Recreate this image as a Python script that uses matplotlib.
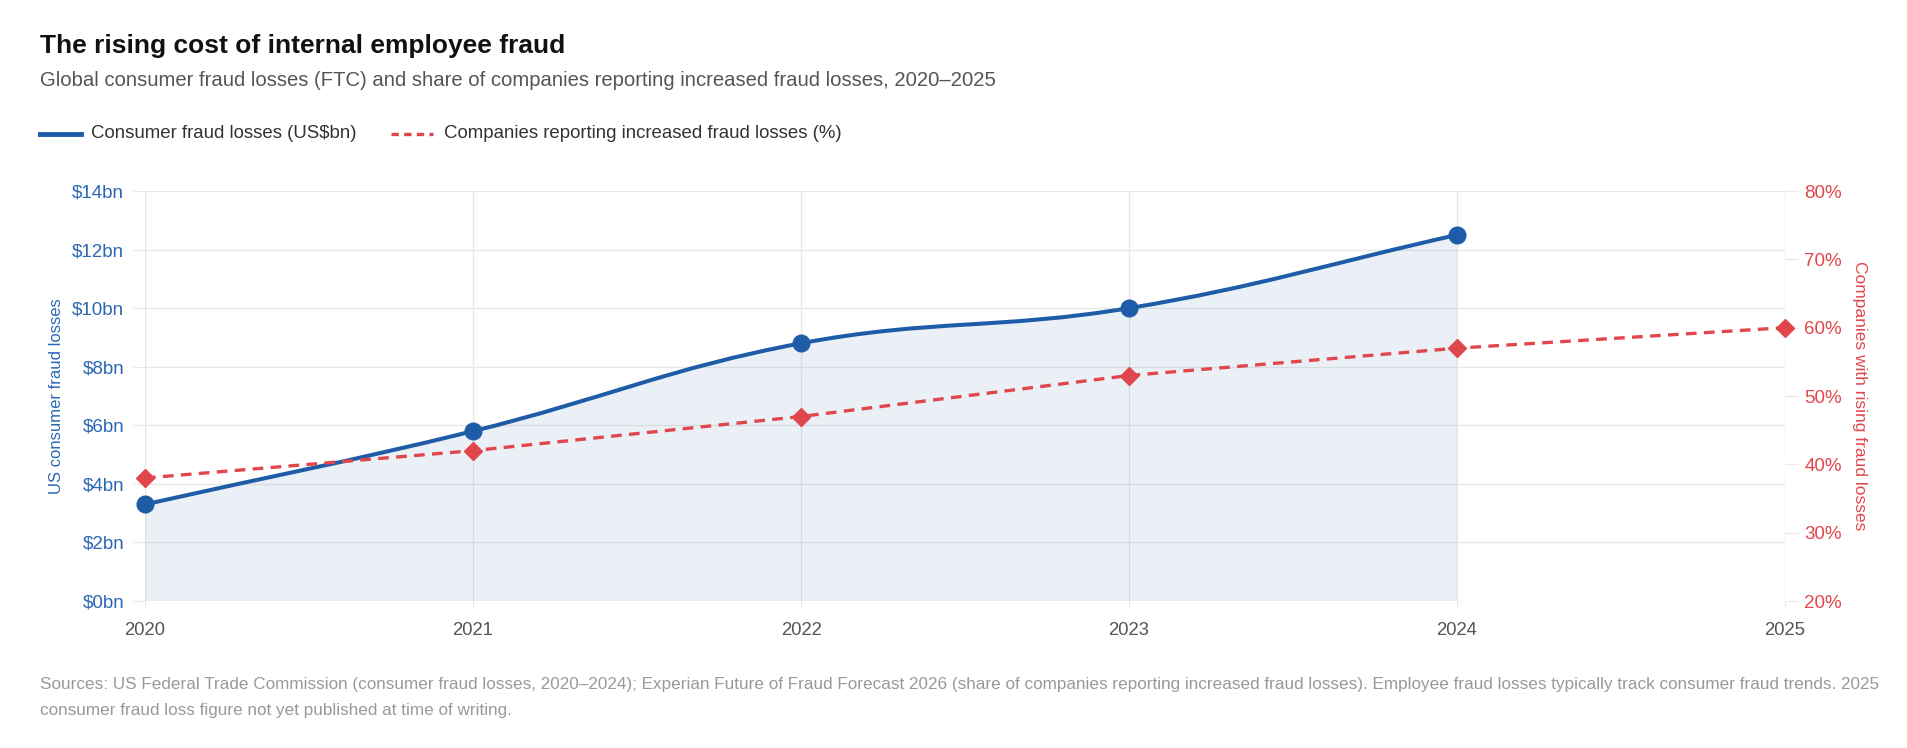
import numpy as np
import matplotlib
matplotlib.use("Agg")
import matplotlib.pyplot as plt
from matplotlib.path import Path
from matplotlib.patches import PathPatch
from matplotlib.lines import Line2D

plt.rcParams['font.family'] = ['Liberation Sans', 'DejaVu Sans']

# data
years = [2020, 2021, 2022, 2023, 2024, 2025]
loss_years = [2020, 2021, 2022, 2023, 2024]
losses_bn = [3.3, 5.8, 8.8, 10.0, 12.5]
share_pct = [38, 42, 47, 53, 57, 60]
left_ticks = [0, 2, 4, 6, 8, 10, 12, 14]
right_ticks = [20, 30, 40, 50, 60, 70, 80]

BLUE = '#1f5ca8'
BLUE_TXT = '#2b68b3'
RED = '#e0474c'
GRID = '#e8e8e8'

W, H = 1907, 748
fig = plt.figure(figsize=(W / 100, H / 100), dpi=100)
ax = fig.add_axes([145 / W, 1 - 601 / H, 1640 / W, 410 / H])
ax2 = ax.twinx()

ax.set_xlim(2020, 2025)
ax.set_ylim(0, 14)
ax2.set_ylim(20, 80)

for a in (ax, ax2):
    for s in a.spines.values():
        s.set_visible(False)

ax.set_xticks(years)
ax.set_xticklabels([str(y) for y in years])
ax.set_yticks(left_ticks)
ax.set_yticklabels(['$%dbn' % v for v in left_ticks])
ax2.set_yticks(right_ticks)
ax2.set_yticklabels(['%d%%' % v for v in right_ticks])

ax.grid(True, color=GRID, linewidth=1)
ax.set_axisbelow(True)
ax.tick_params(axis='x', colors=GRID, labelcolor='#555555', labelsize=13.3, length=5, pad=10)
ax.tick_params(axis='y', colors=GRID, labelcolor=BLUE_TXT, labelsize=13.5, length=9, pad=6)
ax2.tick_params(axis='y', colors=GRID, labelcolor=RED, labelsize=13.5, length=9, pad=5)

ax.set_ylabel('US consumer fraud losses', color=BLUE_TXT, fontsize=12, labelpad=6)
ax2.set_ylabel('Companies with rising fraud losses', color=RED, fontsize=12.5,
               rotation=270, labelpad=18)

# smooth curve (bezier, tension like chart.js) built in pixel space
tension = 0.4
pts = ax.transData.transform(np.column_stack([loss_years, losses_bn]))
n = len(pts)
verts = [pts[0]]
codes = [Path.MOVETO]
cps = []
for i in range(n):
    prev = pts[max(i - 1, 0)]
    nxt = pts[min(i + 1, n - 1)]
    cur = pts[i]
    d01 = np.hypot(*(cur - prev))
    d12 = np.hypot(*(nxt - cur))
    tot = d01 + d12 if d01 + d12 > 0 else 1
    fa = tension * d01 / tot
    fb = tension * d12 / tot
    cps.append((cur - fa * (nxt - prev), cur + fb * (nxt - prev)))
for i in range(n - 1):
    verts += [cps[i][1], cps[i + 1][0], pts[i + 1]]
    codes += [Path.CURVE4] * 3
inv = ax.transData.inverted()
verts_d = inv.transform(np.array(verts))

line_path = Path(verts_d, codes)
ax.add_patch(PathPatch(line_path, facecolor='none', edgecolor=BLUE, linewidth=2.9,
                       capstyle='round', joinstyle='round', zorder=3))
fill_verts = np.vstack([verts_d, [[loss_years[-1], 0], [loss_years[0], 0], verts_d[0]]])
fill_codes = codes + [Path.LINETO, Path.LINETO, Path.CLOSEPOLY]
ax.add_patch(PathPatch(Path(fill_verts, fill_codes), facecolor=BLUE, alpha=0.085,
                       edgecolor='none', zorder=1))
ax.plot(loss_years, losses_bn, linestyle='none', marker='o', markersize=12,
        color=BLUE, zorder=4, clip_on=False)

ax2.plot(years, share_pct, color=RED, linewidth=2.4, dashes=(3.2, 2.2),
         marker='D', markersize=9.5, zorder=5, clip_on=False)

# titles
fig.text(40 / W, 1 - 46 / H, 'The rising cost of internal employee fraud', fontsize=19,
         fontweight='bold', color='#111111', va='center')
fig.text(40 / W, 1 - 80 / H,
         'Global consumer fraud losses (FTC) and share of companies reporting increased fraud losses, 2020\u20132025',
         fontsize=14.6, color='#555555', va='center')

# legend
ly = 1 - 134 / H
fig.lines.append(Line2D([40 / W, 81 / W], [ly, ly], transform=fig.transFigure,
                        color=BLUE, linewidth=3.5))
fig.text(91 / W, ly, 'Consumer fraud losses (US$bn)', fontsize=13.4, color='#333333', va='center')
fig.lines.append(Line2D([391 / W, 433 / W], [ly, ly], transform=fig.transFigure,
                        color=RED, linewidth=2.4, dashes=(2.2, 1.6)))
fig.text(444 / W, ly, 'Companies reporting increased fraud losses (%)', fontsize=13.4,
         color='#333333', va='center')

# sources
fig.text(40 / W, 1 - 685 / H,
         'Sources: US Federal Trade Commission (consumer fraud losses, 2020\u20132024); Experian Future of Fraud Forecast 2026 '
         '(share of companies reporting increased fraud losses). Employee fraud losses typically track consumer fraud trends. 2025',
         fontsize=12.3, color='#999999', va='center')
fig.text(40 / W, 1 - 710 / H, 'consumer fraud loss figure not yet published at time of writing.',
         fontsize=12.3, color='#999999', va='center')

fig.savefig('out.png', dpi=100)
